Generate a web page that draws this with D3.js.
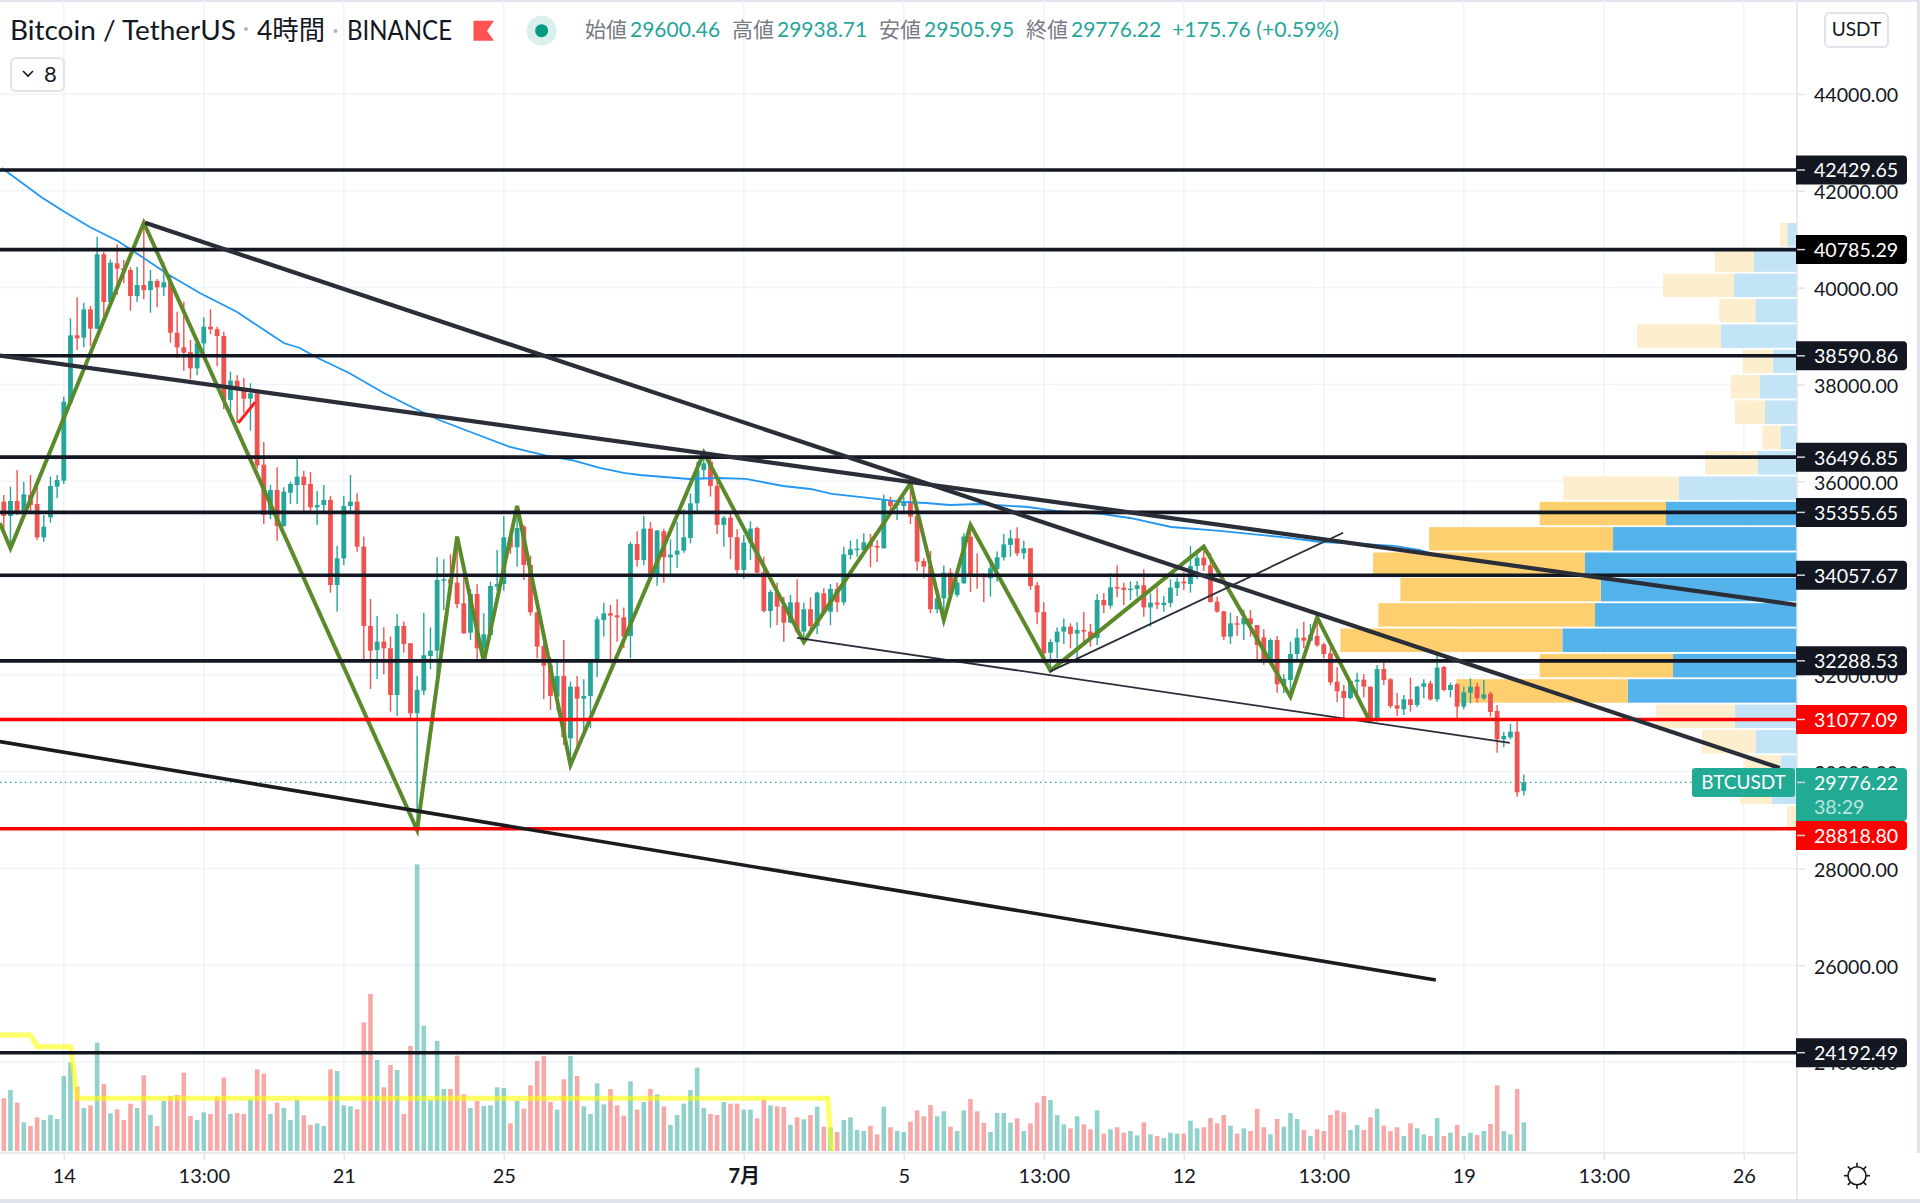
<!DOCTYPE html>
<html>
<head>
<meta charset="utf-8">
<script src="https://cdn.jsdelivr.net/npm/d3@7"></script>
<style>
  html, body { margin: 0; padding: 0; background: #fff; }
  svg { display: block; }
  text { font-family: Lato, "Noto Sans CJK JP", sans-serif; }
</style>
</head>
<body>
<div id="chart"></div>
<script>
// 4h candles. bar 0 is the first bar on the left
const opens = [35577,35281,35591,35350,35715,35529,34840,35253,35887,36011,37623,39014,38966,39551,39151,40687,39702,40501,40405,40364,
39826,40054,39950,40136,40005,40109,39069,38766,38669,38332,38848,39193,39138,39000,37678,38077,37926,37705,37815,36342,
35302,35818,35074,35763,35921,36094,35942,35460,35508,35612,33855,34406,35488,35577,34648,33009,32513,32685,32548,31583,
33009,32651,31205,31673,32389,32499,33946,33973,33904,33477,32871,33670,32548,32823,33822,33877,34841,34634,35061,34269,
33291,32596,32203,31549,31976,30688,31756,31508,31563,32272,33133,33271,33229,33188,32802,34703,34373,35020,34063,34965,
34428,34483,34566,34827,35543,36232,36404,35902,35096,35247,34841,34166,34731,35034,34118,33319,33711,33429,33078,33498,
32892,33353,33009,33684,33305,33774,33498,34476,34586,34579,34731,34662,34614,35612,35502,35488,35578,35282,34352,34249,
33353,33581,34111,33650,33891,34855,34077,34063,33994,34187,34428,34683,34820,34510,34614,33849,33298,32458,32672,32892,
32995,32851,32926,32892,32761,33546,33429,33815,33801,33753,33774,33849,33394,33491,33442,33484,33794,33925,33876,34248,
34420,34262,33511,33312,32788,33064,33043,33167,33029,32774,32251,32719,31790,31893,32430,32768,32706,32802,32630,32444,
31858,31666,31521,31858,31900,31755,31053,32120,31907,31369,31287,31493,31376,31755,31824,31493,32161,31686,31803,31342,
31631,31755,31514,31611,31252,30667,30708,30825,29600.46];
const highs = [35715,35887,36231,35990,36128,35921,35302,36094,36128,37746,39365,39799,39689,39620,41052,40735,40584,40894,40570,40419,
40432,41340,40364,40178,40522,40260,39503,39709,38917,38883,39386,39551,39193,39090,38263,38187,38132,38022,37829,36810,
35921,36286,35873,35990,36452,36218,36190,35798,35921,35694,34661,35694,36128,35749,34855,33567,33216,32981,32789,33257,
33099,32651,31976,33284,32981,34428,34386,34490,34855,34200,33767,33870,33271,33925,34579,35282,34993,35488,35096,34462,
33305,32892,32362,32251,32720,31859,31976,31907,32293,33202,33491,33443,33560,33388,34751,34965,35282,35158,34993,35020,
34800,35158,35420,35750,36404,36590,36494,36094,35282,35323,35006,34889,35172,35061,34441,33753,33904,33615,33650,33973,
33491,33601,33718,33787,33877,33904,34648,34772,34807,34924,34910,34786,35723,35681,35578,35681,35957,35302,34407,34559,
33753,34256,34200,33959,34924,35096,34510,34097,34304,34545,34910,34993,35048,34772,34614,33925,33498,32734,32981,33161,
33064,33085,33298,33050,33670,33684,34097,34256,33904,33932,33932,34179,33683,33807,33628,33973,34007,34117,34661,34558,
34648,34510,33615,33312,33284,33215,33339,33339,33029,32940,32754,32802,32010,32685,32953,33098,33050,33188,32664,32582,
32155,31790,31893,32044,32010,31755,32203,32251,31927,31631,31583,31941,31769,31907,31879,32409,32182,31838,31824,31755,
31927,31838,31893,31652,31376,30825,30984,31053,29938.71];
const lows = [34957,34613,35302,35302,35370,34785,34751,35143,35646,35942,37609,38711,38766,38793,39138,39317,39675,39847,40088,39523,
39702,39758,39482,39592,39826,38862,38545,38284,38105,38187,38600,39041,38380,37485,37333,37196,37416,37044,36259,35116,
35212,34771,35061,35529,35529,35350,35370,35095,35350,33697,33305,34269,35350,34544,32252,31707,31914,32010,31239,31150,
32458,31101,28794,31583,32114,31687,33340,33650,33374,32844,32720,32307,32272,32809,33739,33739,34497,34235,33959,33223,
32341,31494,31273,31260,30550,30137,30481,30792,30895,31948,32789,32238,32685,32548,32341,34235,34262,33959,33842,33904,
34083,34214,34524,34717,35323,36039,35681,34910,34648,34386,34070,33987,34373,34097,33285,32975,33030,32685,33064,32858,
32678,32858,32844,33285,33023,33298,33436,34386,34441,34476,34221,34331,34607,35358,35199,35364,35116,34152,33994,33271,
33271,33133,33615,33601,33877,33712,33780,33498,33615,33925,34359,34441,34455,34386,33753,33043,32238,32086,32341,32637,
32548,32251,32596,32582,32616,33271,33367,33601,33436,33546,33615,33201,32995,33360,33305,33394,33628,33752,33697,33980,
34145,33491,33284,32719,32637,32802,32719,32788,32265,32210,32203,31631,31617,31549,32265,32547,32685,32582,32340,31783,
31431,31101,31493,31549,31535,31011,31032,31790,31308,31149,31170,31239,31328,31514,31466,31445,31659,31535,31101,31287,
31411,31424,31480,31135,30391,30502,30667,29482,29505.95];
const closes = [35281,35591,35336,35729,35508,34840,35061,35901,36025,37643,39014,38952,39551,39151,40687,39702,40515,40391,40350,39826,
40054,39950,40136,40005,40109,39069,38766,38656,38332,38848,39193,39138,39000,37678,38077,37898,37705,37815,36328,35302,
35818,35074,35784,35942,36094,35921,35460,35508,35612,33855,34406,35488,35577,34647,33009,32499,32685,32548,31583,33009,
32637,31205,31687,32403,32499,33959,33973,33891,33464,32858,33670,32548,32837,33835,33877,34841,34634,35034,34269,33291,
32582,32189,31563,31976,30709,31756,31508,31563,32272,33147,33271,33223,33188,32789,34703,34373,35020,34063,34979,34428,
34483,34566,34841,35543,36232,36370,35902,35096,35247,34841,34166,34731,35020,34111,33319,33711,33408,33078,33498,32892,
33353,33009,33698,33298,33774,33498,34490,34593,34607,34738,34648,34628,35612,35488,35543,35578,35268,34338,34235,33353,
33581,34111,33650,33904,34855,34063,34042,34015,34200,34428,34696,34820,34510,34614,33835,33291,32444,32678,32892,32995,
32844,32926,32892,32754,33546,33436,33808,33787,33753,33780,33849,33394,33491,33449,33491,33801,33925,33890,34248,34420,
34262,33504,33305,32788,33064,33036,33174,33043,32616,32265,32719,31803,31914,32430,32768,32706,32823,32609,32430,31845,
31659,31521,31872,31900,31755,31032,32120,31893,31356,31301,31493,31376,31755,31824,31493,32148,31686,31790,31342,31638,
31755,31514,31597,31232,30667,30736,30825,29572,29776.22];
const volumes = [15800,18300,14500,8600,7500,10100,9300,10800,9600,22500,26500,19300,12900,13700,32500,20100,11300,12500,9300,14200,
12900,22700,10800,7500,15000,16500,16800,23500,10500,9300,11600,11100,16300,22000,11100,11400,11100,15500,24500,23200,
11100,14500,12900,9300,15300,10700,7800,8300,7500,24500,24000,13700,13400,12500,38600,47100,27300,19100,25800,24300,
11100,31500,86000,37600,15300,33000,18600,18600,28600,17000,12900,15000,13500,13700,19100,18900,8300,15000,12700,19700,
27000,28500,14700,12400,21500,28500,22500,13400,11100,20300,14000,18600,13700,10600,20900,12400,14700,18600,17000,13400,
7800,10800,14200,18300,25000,12900,11100,10800,14700,14200,14200,12400,12400,9800,15500,13700,13400,13200,7800,10100,
9500,10800,13300,7300,7100,5700,9300,10100,6300,6000,7600,5000,13300,7100,6000,5700,8800,12200,10400,13800,
10400,11900,7300,6000,12200,15600,11900,8500,5700,11400,11400,8500,9800,6000,8300,14500,16500,15300,10800,8000,
6800,10400,8000,6500,12200,5200,6500,7100,5500,6000,4700,8600,5000,4500,3900,5500,5200,5200,9100,6800,
7100,9900,8300,10800,7600,5200,6800,6000,12700,7100,5000,9600,7300,11400,9600,6300,4500,6500,6000,10800,
12200,11600,6300,7800,6300,10100,12700,7600,6000,7100,4500,8300,6800,5000,4500,9900,4500,5500,7800,4500,
5500,4800,6000,8100,19700,6000,5000,18600,8600];

// x axis
const xTickBars = [9,30,51,75,111,135,156,177,198,219,240,261];
const xTickLabels = ["14","13:00","21","25","7月","5","13:00","12","13:00","19","13:00","26"];
// y axis
const yTicks = [44000,42000,40000,38000,36000,34000,32000,30000,28000,26000,24000];

// drawn levels
const levelPrices = [42429.65,40785.29,38590.86,36496.85,35355.65,34057.67,32288.53,31077.09,28818.80,24192.49];
const levelColors = ["#131722","#131722","#131722","#131722","#131722","#131722","#131722","#ff0000","#ff0000","#131722"];
const levelLabelColors = ["#131722","#000000","#131722","#131722","#131722","#131722","#131722","#ff0000","#ff0000","#131722"];

// zigzag pivots
const zigzagBars = [-0.6,1,21,62,68,72,77,85,105,120,136,141,145,157,180,193,197,205];
const zigzagPrices = [35137,34613,41340,28794,34855,32272,35488,30137,36590,32678,35957,33133,35096,32086,34648,31549,33188,31011];

// moving average (blue)
const maBars = [-0.3,5.6,8.9,12.9,17.1,20.3,24.8,29.4,35,38.6,42,44.4,47.1,51.8,57,61.2,65.3,70.4,75.9,81.5,85.1,89.4,93,95.4,99.1,102.8,107,111.3,113.7,116.9,121,124.2,131,134.6,138.3,141.9,146.3,153.6,157.8,164.6,168.9,175.1,182.4,191.4,197.6,203.7,208.5,212.3,213.8];
const maPrices = [42471,41872,41583,41252,40963,40674,40260,39889,39496,39165,38855,38752,38545,38236,37822,37533,37265,36996,36707,36521,36438,36273,36170,36128,36087,36046,36066,36046,35984,35901,35839,35736,35633,35571,35550,35508,35529,35467,35385,35323,35240,35054,34972,34848,34744,34703,34662,34579,34517];

// trend lines [bar0, price0, bar1, price1]
const trendBold = [[21.2,41340,266.4,30075],[-0.6,38593,269,33443],[-0.6,30619,214.8,25695]];
const trendThin = [[119,32761,225.9,30592],[156.9,32065,200.9,34936]];
const redStroke = [35.2,37209,37.7,37630];

// yellow line in the volume pane
const yellowBars = [-0.6,4,5,10,11,123.6,124.2];
const yellowValues = [34800,34800,31300,31300,15800,15800,0];

// volume profile rows (top price of the row, up and down volume)
const vpTop = [41335,40811,40288,39764,39240,38717,38193,37669,37146,36622,36098,35574,35051,34527,34003,33480,32956,32432,31909,31385,30861,30337,29814,29290];
const vpUp = [97,433,630,417,760,243,373,320,166,390,1180,1310,1840,2120,1962,2020,2346,1240,1692,620,415,166,252,10];
const vpDown = [73,387,710,360,840,300,290,300,180,530,1157,1264,1840,2120,2004,2166,2220,1334,1715,790,535,360,318,90];
const vpSolid = [0,0,0,0,0,0,0,0,0,0,0,1,1,1,1,1,1,1,1,0,0,0,0,0];
const vpRowHeight = 485;

const WIDTH = 1920, HEIGHT = 1203;
const AXIS_X = 1797, BASE_Y = 1151, AXIS_Y = 1153;
const UP = "#26a69a", DOWN = "#ef5350", GRID = "#f0f3fa", BORDER = "#e0e3eb";
const TEXT = "#131722", GREY = "#787b86";

const x = d3.scaleLinear().domain([0, 261]).range([3.8, 1743.8]);
const y = d3.scaleLinear().domain([44000, 24000]).range([94, 1062]);
const yVol = d3.scaleLinear().domain([0, 86000]).range([BASE_Y, BASE_Y - 286.7]);
const vpWidth = d3.scaleLinear().domain([0, 4240]).range([0, 424]);

const svg = d3.select("#chart").append("svg")
  .attr("width", WIDTH).attr("height", HEIGHT)
  .style("background", "#fff");

// frame
svg.append("rect").attr("x", 0).attr("y", 0).attr("width", WIDTH).attr("height", 2).attr("fill", BORDER);
svg.append("rect").attr("x", 0).attr("y", 1199).attr("width", WIDTH).attr("height", 4).attr("fill", BORDER);
svg.append("rect").attr("x", 1917).attr("y", 0).attr("width", 3).attr("height", HEIGHT).attr("fill", BORDER);

// grid
svg.append("g").selectAll("line").data(yTicks).enter().append("line")
  .attr("x1", 0).attr("x2", AXIS_X)
  .attr("y1", d => y(d)).attr("y2", d => y(d))
  .attr("stroke", GRID).attr("stroke-width", 1.5);
svg.append("g").selectAll("line").data(xTickBars).enter().append("line")
  .attr("x1", d => x(d)).attr("x2", d => x(d))
  .attr("y1", 0).attr("y2", AXIS_Y)
  .attr("stroke", GRID).attr("stroke-width", 1.5);

// volume profile
const vp = svg.append("g");
vpTop.forEach(function(p, i) {
  const top = y(p), h = y(p - vpRowHeight) - top;
  const up = vpWidth(vpUp[i]), down = vpWidth(vpDown[i]);
  vp.append("rect").attr("x", AXIS_X - up).attr("y", top).attr("width", up).attr("height", h)
    .attr("fill", vpSolid[i] ? "#54b3ea" : "#c3e4f7");
  vp.append("rect").attr("x", AXIS_X - up - down).attr("y", top).attr("width", down).attr("height", h)
    .attr("fill", vpSolid[i] ? "#fdcf6e" : "#fdeecd");
});

const bars = d3.range(closes.length);
const barColor = i => closes[i] >= opens[i] ? UP : DOWN;

// volume
svg.append("g").selectAll("rect").data(bars).enter().append("rect")
  .attr("x", i => x(i) - 2.3).attr("width", 4.6)
  .attr("y", i => yVol(volumes[i]))
  .attr("height", i => BASE_Y - yVol(volumes[i]))
  .attr("fill", barColor).attr("opacity", 0.5);

// yellow line
svg.append("path")
  .attr("d", d3.line().x(d => x(d)).y((d, i) => yVol(yellowValues[i]))(yellowBars))
  .attr("fill", "none").attr("stroke", "#ffff00").attr("stroke-opacity", 0.6)
  .attr("stroke-width", 5);

// candles
const candle = svg.append("g");
candle.selectAll("line").data(bars).enter().append("line")
  .attr("x1", i => x(i)).attr("x2", i => x(i))
  .attr("y1", i => y(highs[i])).attr("y2", i => y(lows[i]))
  .attr("stroke", barColor).attr("stroke-width", 1.4);
candle.selectAll("rect").data(bars).enter().append("rect")
  .attr("x", i => x(i) - 2.4).attr("width", 4.8)
  .attr("y", i => y(Math.max(opens[i], closes[i])))
  .attr("height", i => Math.max(1.5, Math.abs(y(opens[i]) - y(closes[i]))))
  .attr("fill", barColor);

// moving average
svg.append("path")
  .attr("d", d3.line().x(d => x(d)).y((d, i) => y(maPrices[i]))(maBars))
  .attr("fill", "none").attr("stroke", "#2196f3").attr("stroke-width", 1.8);

// last price
svg.append("line")
  .attr("x1", 0).attr("x2", 1692)
  .attr("y1", y(closes[closes.length - 1])).attr("y2", y(closes[closes.length - 1]))
  .attr("stroke", UP).attr("stroke-width", 1.2).attr("stroke-dasharray", "1.5 3.5");

// zigzag
svg.append("path")
  .attr("d", d3.line().x(d => x(d)).y((d, i) => y(zigzagPrices[i]))(zigzagBars))
  .attr("fill", "none").attr("stroke", "#5b8a2a").attr("stroke-width", 4)
  .attr("stroke-linejoin", "miter");

svg.append("line")
  .attr("x1", x(redStroke[0])).attr("y1", y(redStroke[1]))
  .attr("x2", x(redStroke[2])).attr("y2", y(redStroke[3]))
  .attr("stroke", "#ff1f1f").attr("stroke-width", 3);

// thin trend lines
svg.append("g").selectAll("line").data(trendThin).enter().append("line")
  .attr("x1", d => x(d[0])).attr("y1", d => y(d[1]))
  .attr("x2", d => x(d[2])).attr("y2", d => y(d[3]))
  .attr("stroke", "#2a2e39").attr("stroke-width", 1.8);

// levels
svg.append("g").selectAll("line").data(levelPrices).enter().append("line")
  .attr("x1", 0).attr("x2", AXIS_X)
  .attr("y1", d => y(d)).attr("y2", d => y(d))
  .attr("stroke", (d, i) => levelColors[i]).attr("stroke-width", 3.6);

// bold trend lines
svg.append("g").selectAll("line").data(trendBold).enter().append("line")
  .attr("x1", d => x(d[0])).attr("y1", d => y(d[1]))
  .attr("x2", d => x(d[2])).attr("y2", d => y(d[3]))
  .attr("stroke", (d, i) => i == 2 ? "#1b1b1f" : "#2a2e39").attr("stroke-width", (d, i) => i == 2 ? 3.6 : 4.2);

// x axis
svg.append("rect").attr("x", 0).attr("y", AXIS_Y).attr("width", WIDTH).attr("height", 46).attr("fill", "#fff");
const xAxis = d3.axisBottom(x).tickValues(xTickBars)
  .tickFormat((d, i) => xTickLabels[i]).tickSize(7).tickSizeOuter(0).tickPadding(9);
const gx = svg.append("g").attr("transform", "translate(0," + AXIS_Y + ")").call(xAxis);
gx.select(".domain").remove();
gx.selectAll("line").attr("stroke", BORDER).attr("stroke-width", 1.5);
gx.selectAll("text").attr("fill", TEXT).attr("font-size", 20)
  .attr("font-weight", (d, i) => xTickLabels[i] == "7月" ? 700 : 400)
  .style("font-family", 'Lato, "Noto Sans CJK JP", sans-serif');
svg.append("line").attr("x1", 0).attr("x2", 1917).attr("y1", AXIS_Y).attr("y2", AXIS_Y)
  .attr("stroke", BORDER).attr("stroke-width", 1.5);

// y axis
svg.append("rect").attr("x", AXIS_X).attr("y", 2).attr("width", 120).attr("height", 1197).attr("fill", "#fff");
const yAxis = d3.axisRight(y).tickValues(yTicks)
  .tickFormat(d => d.toFixed(2)).tickSize(8).tickSizeOuter(0).tickPadding(9);
const gy = svg.append("g").attr("transform", "translate(" + AXIS_X + ",0)").call(yAxis);
gy.select(".domain").remove();
gy.selectAll("line").attr("stroke", BORDER).attr("stroke-width", 1.5);
gy.selectAll("text").attr("fill", TEXT).attr("font-size", 19.6).attr("dy", "0.4em")
  .style("font-family", 'Lato, "Noto Sans CJK JP", sans-serif');
svg.append("line").attr("x1", AXIS_X).attr("x2", AXIS_X).attr("y1", 2).attr("y2", 1199)
  .attr("stroke", BORDER).attr("stroke-width", 1.5);

// price labels on the axis
const priceLabel = svg.append("g");
levelPrices.forEach(function(p, i) {
  const cy = y(p) + (p == 28818.80 ? 6.7 : 0);
  priceLabel.append("path")
    .attr("d", "M" + (AXIS_X - 1) + "," + (cy - 14.5) + "h107a4,4 0 0 1 4,4v21a4,4 0 0 1 -4,4h-107z")
    .attr("fill", levelLabelColors[i]);
  priceLabel.append("line").attr("x1", AXIS_X).attr("x2", AXIS_X + 8).attr("y1", cy).attr("y2", cy)
    .attr("stroke", "#d1d4dc").attr("stroke-width", 1.5);
  priceLabel.append("text").attr("x", AXIS_X + 17).attr("y", cy).attr("dy", "0.38em")
    .attr("fill", "#fff").attr("font-size", 19.6).text(p.toFixed(2));
});

// last price label
const last = y(closes[closes.length - 1]);
svg.append("rect").attr("x", 1692).attr("y", last - 14.5).attr("width", 103).attr("height", 29).attr("rx", 3).attr("fill", "#22ab94");
svg.append("text").attr("x", 1743.5).attr("y", last).attr("dy", "0.35em").attr("text-anchor", "middle")
  .attr("fill", "#fff").attr("font-size", 19).text("BTCUSDT");
svg.append("path")
  .attr("d", "M" + (AXIS_X - 1) + "," + (last - 14.5) + "h107a4,4 0 0 1 4,4v45a4,4 0 0 1 -4,4h-107z")
  .attr("fill", "#22ab94");
svg.append("line").attr("x1", AXIS_X).attr("x2", AXIS_X + 8).attr("y1", last).attr("y2", last)
  .attr("stroke", "#d1d4dc").attr("stroke-width", 1.5);
svg.append("text").attr("x", AXIS_X + 17).attr("y", last).attr("dy", "0.38em")
  .attr("fill", "#fff").attr("font-size", 19.6).text(closes[closes.length - 1].toFixed(2));
svg.append("text").attr("x", AXIS_X + 17).attr("y", last + 24).attr("dy", "0.38em")
  .attr("fill", "#fff").attr("fill-opacity", 0.7).attr("font-size", 19.6).text("38:29");

// header
const header = svg.append("g");
function label(px, py, str, size, color) {
  return header.append("text").attr("x", px).attr("y", py).attr("dy", "0.35em")
    .attr("font-size", size).attr("fill", color).text(str);
}
label(10, 31, "Bitcoin / TetherUS", 27, TEXT).attr("textLength", 226).attr("lengthAdjust", "spacingAndGlyphs");
label(257, 31, "4時間", 27, TEXT).attr("textLength", 68).attr("lengthAdjust", "spacingAndGlyphs");
label(347, 31, "BINANCE", 27, TEXT).attr("textLength", 105).attr("lengthAdjust", "spacingAndGlyphs");
header.append("circle").attr("cx", 246).attr("cy", 29).attr("r", 2).attr("fill", "#b2b5be");
header.append("circle").attr("cx", 335.5).attr("cy", 31).attr("r", 2).attr("fill", "#b2b5be");
header.append("path").attr("d", "M473.5,20.7H494L487,30.7L494,40.7H473.5Z").attr("fill", "#ff5252");
header.append("circle").attr("cx", 541.6).attr("cy", 30.7).attr("r", 15).attr("fill", "#d9f0ec");
header.append("circle").attr("cx", 541.6).attr("cy", 30.7).attr("r", 6.5).attr("fill", "#089981");

const ohlcNames = ["始値","高値","安値","終値"];
const ohlcValues = [opens, highs, lows, closes].map(a => a[a.length - 1].toFixed(2));
const ohlcNameX = [585, 732, 879, 1026];
const ohlcValueX = [630, 777, 924, 1071];
ohlcNames.forEach(function(n, i) {
  label(ohlcNameX[i], 30, n, 21, GREY);
  label(ohlcValueX[i], 30, ohlcValues[i], 21, UP);
});
label(1172, 30, "+175.76 (+0.59%)", 21, UP).attr("textLength", 167).attr("lengthAdjust", "spacingAndGlyphs");

// collapsed indicators button
header.append("rect").attr("x", 11).attr("y", 58).attr("width", 53).attr("height", 33).attr("rx", 5)
  .attr("fill", "#fff").attr("stroke", BORDER).attr("stroke-width", 2);
header.append("path").attr("d", "M23,71l5,5l5,-5").attr("fill", "none").attr("stroke", TEXT).attr("stroke-width", 1.6);
label(44, 74, "8", 22, TEXT);

// currency button
header.append("rect").attr("x", 1825).attr("y", 13).attr("width", 63).attr("height", 34).attr("rx", 5)
  .attr("fill", "#fff").attr("stroke", BORDER).attr("stroke-width", 2);
label(1856.5, 29.5, "USDT", 19, TEXT).attr("text-anchor", "middle");

// settings gear
const gear = svg.append("g").attr("transform", "translate(1857,1175.7)")
  .attr("fill", "none").attr("stroke", TEXT).attr("stroke-width", 1.6);
gear.append("circle").attr("r", 9);
gear.selectAll("line").data(d3.range(8)).enter().append("line")
  .attr("x1", d => 9 * Math.cos(d * Math.PI / 4)).attr("y1", d => 9 * Math.sin(d * Math.PI / 4))
  .attr("x2", d => 13 * Math.cos(d * Math.PI / 4)).attr("y2", d => 13 * Math.sin(d * Math.PI / 4));
</script>
</body>
</html>
